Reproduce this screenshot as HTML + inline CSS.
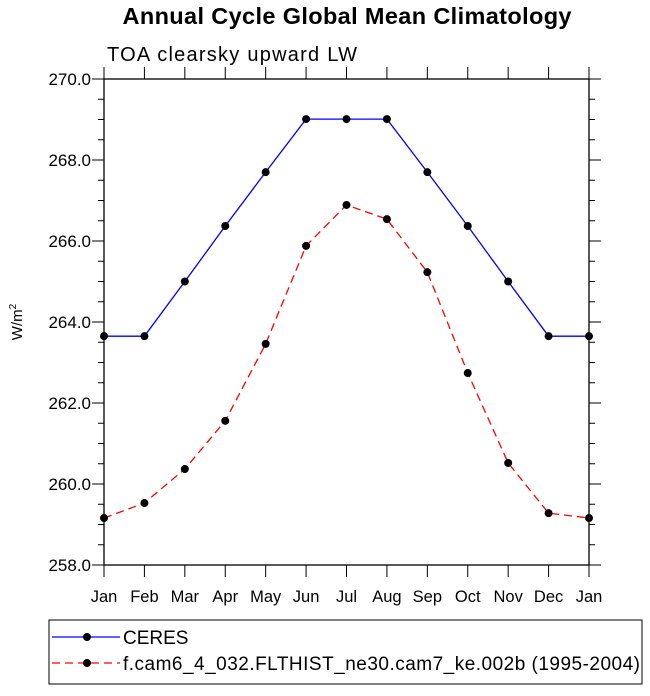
<!DOCTYPE html>
<html><head><meta charset="utf-8"><style>
body{margin:0;background:#fff;font-family:"Liberation Sans",Helvetica,sans-serif}
</style></head><body>
<svg id="c" width="650" height="691" xmlns="http://www.w3.org/2000/svg" font-family="Liberation Sans, Helvetica, sans-serif">
<text x="347" y="24" font-size="23.5" font-weight="bold" text-anchor="middle" textLength="449">Annual Cycle Global Mean Climatology</text>
<text x="107" y="61" font-size="20" textLength="250">TOA clearsky upward LW</text>
<text transform="translate(22,322) rotate(-90)" font-size="15" text-anchor="middle">W/m<tspan dy="-6" font-size="10">2</tspan></text>
<g id="axes"></g>
<g id="series"></g>
<rect x="49" y="620" width="593" height="64" fill="none" stroke="#000" stroke-width="1"/>
<g>
<line x1="52" y1="637" x2="120" y2="637" stroke="#00f" stroke-width="1.3"/>
<circle cx="87" cy="637" r="4" fill="#000"/>
<text x="123" y="644" font-size="19">CERES</text></g>
<g>
<line x1="52" y1="663" x2="120" y2="663" stroke="#f00" stroke-width="1.3" stroke-dasharray="8,5"/>
<circle cx="87" cy="663" r="4" fill="#000"/>
<text x="123" y="670" font-size="19" textLength="517">f.cam6_4_032.FLTHIST_ne30.cam7_ke.002b (1995-2004)</text></g>
</svg>
<script>
const months=["Jan","Feb","Mar","Apr","May","Jun","Jul","Aug","Sep","Oct","Nov","Dec","Jan"];
const ceres=[263.65,263.65,265.0,266.37,267.7,269.01,269.01,269.01,267.7,266.37,265.0,263.65,263.65];
const model=[259.16,259.53,260.37,261.56,263.46,265.88,266.89,266.54,265.23,262.74,260.52,259.28,259.16];
const yTicks=[258,260,262,264,266,268,270];
const X0=104,X1=589,Y0=565,Y1=79,ymin=258,ymax=270;
const xs=i=>X0+(X1-X0)*i/(months.length-1);
const ys=v=>Y0-(Y0-Y1)*(v-ymin)/(ymax-ymin);
const NS="http://www.w3.org/2000/svg";
function mk(t,a,p){const e=document.createElementNS(NS,t);for(const k in a)e.setAttribute(k,a[k]);p.appendChild(e);return e;}
const ax=document.getElementById('axes');
const fr=mk('rect',{x:X0,y:Y1,width:X1-X0,height:Y0-Y1,fill:'none',stroke:'#000','stroke-width':1.3},ax);


for(let v=ymin;v<=ymax+1e-9;v+=0.5){
 const maj=Math.abs(v-Math.round(v/2)*2)<1e-9;const L=maj?12:6;const y=ys(v);
 mk('line',{x1:X0-L,y1:y,x2:X0,y2:y,stroke:'#000','stroke-width':1},ax);
 mk('line',{x1:X1,y1:y,x2:X1+L,y2:y,stroke:'#000','stroke-width':1},ax);
}
yTicks.forEach(v=>{const t=mk('text',{x:X0-13,y:ys(v)+6,'font-size':17,'text-anchor':'end'},ax);t.textContent=v.toFixed(1);

});
months.forEach((m,i)=>{const x=xs(i);
 mk('line',{x1:x,y1:Y0,x2:x,y2:Y0+12,stroke:'#000','stroke-width':1},ax);
 mk('line',{x1:x,y1:Y1-12,x2:x,y2:Y1,stroke:'#000','stroke-width':1},ax);
 const t=mk('text',{x:x,y:602,'font-size':16.5,'text-anchor':'middle'},ax);t.textContent=m;
 
 });
const sg=document.getElementById('series');
function draw(vals,col,dash,name){
 const g=mk('g',{},sg);
 
 
 const pl=mk('polyline',{points:vals.map((v,i)=>xs(i)+','+ys(v)).join(' '),fill:'none',stroke:col,'stroke-width':1.3},g);
 if(dash)pl.setAttribute('stroke-dasharray',dash);
 vals.forEach((v,i)=>{const c=mk('circle',{cx:xs(i),cy:ys(v),r:4,fill:'#000'},g);
 
 });
}
draw(ceres,'#00f',null,'ceres-series');
draw(model,'#f00','8,5','model-series');
</script>
</body></html>
